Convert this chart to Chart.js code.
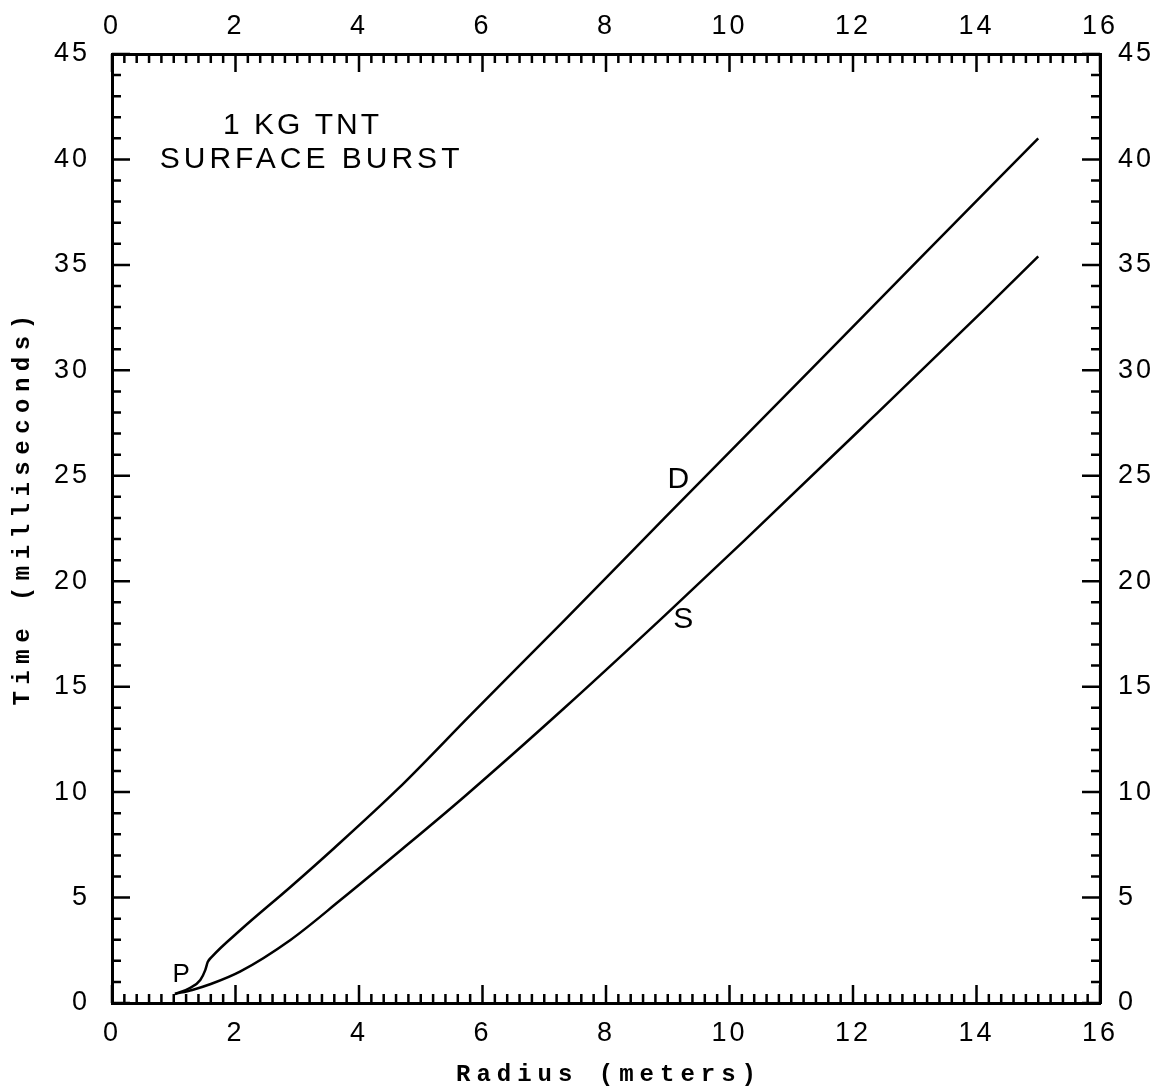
<!DOCTYPE html>
<html><head><meta charset="utf-8">
<script src="https://cdn.jsdelivr.net/npm/chart.js@4/dist/chart.umd.min.js"></script>
<style>html,body{margin:0;padding:0;background:#fff}#wrap{width:1152px;height:1089px}</style>
</head><body><div id="wrap"><canvas id="c" width="1152" height="1089"></canvas></div>
<script>
// Upper curve: P (precursor) segment joining D curve
const radiusD = [1.02, 1.26, 1.43, 1.51, 1.55, 1.62, 2.08, 2.89, 3.6, 4.63, 5.82, 7.33, 8.95, 11.34, 13.08, 15.0];
const timeD   = [0.43, 0.71, 1.09, 1.56, 1.94, 2.2, 3.46, 5.5, 7.35, 10.15, 13.7, 18.16, 23.0, 30.1, 35.3, 41.0];
// Lower curve: S
const radiusS = [1.02, 1.3, 1.6, 2.08, 2.89, 3.7, 4.7, 5.7, 7.33, 8.95, 10.23, 12.26, 14.15, 15.0];
const timeS   = [0.43, 0.62, 0.9, 1.5, 2.99, 4.88, 7.3, 9.77, 14.0, 18.37, 21.9, 27.6, 32.95, 35.4];

const xTickLabels = [0, 2, 4, 6, 8, 10, 12, 14, 16];
const yTickLabels = [0, 5, 10, 15, 20, 25, 30, 35, 40, 45];

const xTitle = 'Radius (meters)';
const yTitle = 'Time (milliseconds)';

const notes = [
  {text: '1 KG TNT', x: 3.06, y: 41.6, size: 30, sp: 3},
  {text: 'SURFACE BURST', x: 3.2, y: 40.0, size: 30, sp: 4},
  {text: 'D', x: 9.17, y: 24.8, size: 30, sp: 0},
  {text: 'S', x: 9.25, y: 18.16, size: 30, sp: 0},
  {text: 'P', x: 1.12, y: 1.33, size: 26, sp: 0}
];

const toPts = (xs, ys) => xs.map((v, i) => ({x: v, y: ys[i]}));

const tickFont = {family: 'Liberation Sans', size: 27};

function xScale(pos, h, pad) {
  return {
    type: 'linear', position: pos, min: 0, max: 16,
    grid: {display: false, drawTicks: false},
    border: {display: true, color: '#000', width: 3},
    ticks: {color: '#000', font: tickFont, padding: pad, maxRotation: 0, minRotation: 0, autoSkip: false},
    afterBuildTicks: s => { s.ticks = xTickLabels.map(v => ({value: v})); },
    afterFit: s => { s.height = h; }
  };
}
function yScale(pos, w, pad) {
  return {
    type: 'linear', position: pos, min: 0, max: 45,
    grid: {display: false, drawTicks: false},
    border: {display: true, color: '#000', width: 3},
    ticks: {color: '#000', font: tickFont, padding: pad, autoSkip: false},
    afterBuildTicks: s => { s.ticks = yTickLabels.map(v => ({value: v})); },
    afterFit: s => { s.width = w; }
  };
}

const framePlugin = {
  id: 'frame',
  beforeDraw(chart) { chart.ctx.letterSpacing = '3px'; },
  afterDraw(chart) {
    const {ctx, chartArea: a, scales: {x, y}} = chart;
    ctx.save();
    ctx.strokeStyle = '#000';
    ctx.lineWidth = 2.5;
    ctx.beginPath();
    for (let i = 0; i <= 80; i++) {
      const px = x.getPixelForValue(i * 0.2);
      const L = (i % 10 === 0) ? 18 : 9;
      ctx.moveTo(px, a.bottom); ctx.lineTo(px, a.bottom - L);
      ctx.moveTo(px, a.top); ctx.lineTo(px, a.top + L);
    }
    for (let j = 0; j <= 45; j++) {
      const py = y.getPixelForValue(j);
      const L = (j % 5 === 0) ? 18 : 9;
      ctx.moveTo(a.left, py); ctx.lineTo(a.left + L, py);
      ctx.moveTo(a.right, py); ctx.lineTo(a.right - L, py);
    }
    ctx.stroke();

    ctx.fillStyle = '#000';
    ctx.textAlign = 'center';
    ctx.textBaseline = 'middle';
    for (const n of notes) {
      ctx.letterSpacing = n.sp + 'px';
      ctx.font = n.size + 'px "Liberation Sans"';
      ctx.fillText(n.text, x.getPixelForValue(n.x) + n.sp / 2, y.getPixelForValue(n.y));
    }

    ctx.letterSpacing = '6px';
    ctx.font = 'bold 24px "Liberation Mono"';
    ctx.fillText(xTitle, (a.left + a.right) / 2 + 3, 1075);
    ctx.save();
    ctx.translate(23, 510);
    ctx.rotate(-Math.PI / 2);
    ctx.letterSpacing = '6.5px';
    ctx.fillText(yTitle, 3, 0);
    ctx.restore();
    ctx.restore();
  }
};

new Chart(document.getElementById('c'), {
  type: 'line',
  data: {
    datasets: [
      {label: 'D', data: toPts(radiusD, timeD), xAxisID: 'x', yAxisID: 'y',
       borderColor: '#000', borderWidth: 2.5, pointRadius: 0, fill: false, cubicInterpolationMode: 'monotone'},
      {label: 'S', data: toPts(radiusS, timeS), xAxisID: 'x', yAxisID: 'y',
       borderColor: '#000', borderWidth: 2.5, pointRadius: 0, fill: false, cubicInterpolationMode: 'monotone'}
    ]
  },
  options: {
    responsive: false, animation: false, devicePixelRatio: 1,
    layout: {padding: 0},
    plugins: {legend: {display: false}, tooltip: {enabled: false}, title: {display: false}},
    scales: {
      x: xScale('bottom', 86, 14),
      x2: xScale('top', 54, 11),
      y: yScale('left', 112, 22),
      y2: yScale('right', 52, 18)
    }
  },
  plugins: [framePlugin]
});
</script>
</body></html>
